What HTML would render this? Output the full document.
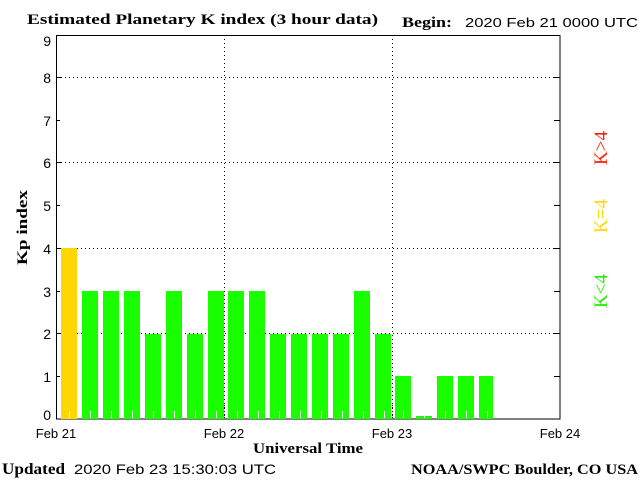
<!DOCTYPE html>
<html><head><style>body{margin:0;background:#fff}svg{display:block}</style></head><body>
<svg width="640" height="480" xmlns="http://www.w3.org/2000/svg">
<rect width="640" height="480" fill="#fff"/>
<text x="27" y="24" font-family="Liberation Serif,serif" font-weight="bold" font-size="15" textLength="351" lengthAdjust="spacingAndGlyphs">Estimated Planetary K index (3 hour data)</text>
<text x="402" y="27" font-family="Liberation Serif,serif" font-weight="bold" font-size="15" textLength="50" lengthAdjust="spacingAndGlyphs">Begin:</text>
<text x="465" y="27" font-family="Liberation Sans,sans-serif" font-size="13" textLength="173" lengthAdjust="spacingAndGlyphs">2020 Feb 21 0000 UTC</text>
<g stroke="#000" stroke-width="1" stroke-dasharray="1,3">
<line x1="57" y1="77.5" x2="560" y2="77.5"/><line x1="57" y1="162.5" x2="560" y2="162.5"/><line x1="57" y1="248.5" x2="560" y2="248.5"/><line x1="57" y1="333.5" x2="560" y2="333.5"/>
<line x1="224.5" y1="35" x2="224.5" y2="419"/><line x1="392.5" y1="35" x2="392.5" y2="419"/>
</g>
<rect x="56.5" y="35.5" width="503.5" height="383.5" fill="none" stroke="#000"/>
<g stroke="#000">
<line x1="56" y1="77.5" x2="62" y2="77.5"/><line x1="56" y1="162.5" x2="62" y2="162.5"/><line x1="56" y1="248.5" x2="62" y2="248.5"/><line x1="56" y1="333.5" x2="62" y2="333.5"/>
<line x1="554" y1="77.5" x2="560" y2="77.5"/><line x1="554" y1="162.5" x2="560" y2="162.5"/><line x1="554" y1="248.5" x2="560" y2="248.5"/><line x1="554" y1="333.5" x2="560" y2="333.5"/>
<line x1="554" y1="120.5" x2="560" y2="120.5"/><line x1="554" y1="205.5" x2="560" y2="205.5"/><line x1="554" y1="291.5" x2="560" y2="291.5"/><line x1="554" y1="376.5" x2="560" y2="376.5"/>
<line x1="56" y1="120.5" x2="60" y2="120.5"/><line x1="56" y1="205.5" x2="60" y2="205.5"/><line x1="56" y1="291.5" x2="60" y2="291.5"/><line x1="56" y1="376.5" x2="60" y2="376.5"/>
</g>
<g font-family="Liberation Sans,sans-serif" font-size="14" text-anchor="end">
<text x="51" y="46">9</text><text x="51" y="83">8</text><text x="51" y="126">7</text><text x="51" y="168">6</text><text x="51" y="211">5</text><text x="51" y="254">4</text><text x="51" y="297">3</text><text x="51" y="339">2</text><text x="51" y="382">1</text><text x="51" y="420">0</text>
</g>
<g font-family="Liberation Sans,sans-serif" font-size="13" text-anchor="middle">
<text x="56" y="438">Feb 21</text><text x="224" y="438">Feb 22</text><text x="392" y="438">Feb 23</text><text x="560" y="438">Feb 24</text>
</g>
<text x="253" y="453" font-family="Liberation Serif,serif" font-weight="bold" font-size="15" textLength="110" lengthAdjust="spacingAndGlyphs">Universal Time</text>
<text transform="translate(27,265) rotate(-90)" font-family="Liberation Serif,serif" font-weight="bold" font-size="15" textLength="75" lengthAdjust="spacingAndGlyphs">Kp index</text>
<text x="2" y="474" font-family="Liberation Serif,serif" font-weight="bold" font-size="16" textLength="63" lengthAdjust="spacingAndGlyphs">Updated</text>
<text x="74" y="474" font-family="Liberation Sans,sans-serif" font-size="14" textLength="202" lengthAdjust="spacingAndGlyphs">2020 Feb 23 15:30:03 UTC</text>
<text x="411" y="474" font-family="Liberation Serif,serif" font-weight="bold" font-size="15" textLength="227" lengthAdjust="spacingAndGlyphs">NOAA/SWPC Boulder, CO USA</text>
<g font-family="Liberation Serif,serif" font-size="19" text-anchor="middle">
<text transform="translate(607,148) rotate(-90)" fill="#ff2000">K&gt;4</text>
<text transform="translate(607,216) rotate(-90)" fill="#ffd700">K=4</text>
<text transform="translate(607,291) rotate(-90)" fill="#22ee00">K&lt;4</text>
</g>
<g>
<rect x="61" y="248" width="16" height="171" fill="#ffd700"/>
<rect x="82" y="291" width="16" height="128" fill="#1aff00"/>
<rect x="103" y="291" width="16" height="128" fill="#1aff00"/>
<rect x="124" y="291" width="16" height="128" fill="#1aff00"/>
<rect x="145" y="334" width="16" height="85" fill="#1aff00"/>
<rect x="166" y="291" width="16" height="128" fill="#1aff00"/>
<rect x="187" y="334" width="16" height="85" fill="#1aff00"/>
<rect x="208" y="291" width="16" height="128" fill="#1aff00"/>
<rect x="228" y="291" width="16" height="128" fill="#1aff00"/>
<rect x="249" y="291" width="16" height="128" fill="#1aff00"/>
<rect x="270" y="334" width="16" height="85" fill="#1aff00"/>
<rect x="291" y="334" width="16" height="85" fill="#1aff00"/>
<rect x="312" y="334" width="16" height="85" fill="#1aff00"/>
<rect x="333" y="334" width="16" height="85" fill="#1aff00"/>
<rect x="354" y="291" width="16" height="128" fill="#1aff00"/>
<rect x="375" y="334" width="16" height="85" fill="#1aff00"/>
<rect x="395" y="376" width="16" height="43" fill="#1aff00"/>
<rect x="416" y="416" width="16" height="3" fill="#1aff00"/>
<rect x="437" y="376" width="16" height="43" fill="#1aff00"/>
<rect x="458" y="376" width="16" height="43" fill="#1aff00"/>
<rect x="479" y="376" width="14" height="43" fill="#1aff00"/>
</g>
<g stroke="#fff" stroke-width="1">
<line x1="69.5" y1="411" x2="69.5" y2="418"/><line x1="90.5" y1="411" x2="90.5" y2="418"/><line x1="111.5" y1="411" x2="111.5" y2="418"/><line x1="132.5" y1="411" x2="132.5" y2="418"/><line x1="153.5" y1="411" x2="153.5" y2="418"/><line x1="174.5" y1="411" x2="174.5" y2="418"/><line x1="195.5" y1="411" x2="195.5" y2="418"/><line x1="216.5" y1="411" x2="216.5" y2="418"/><line x1="237.5" y1="411" x2="237.5" y2="418"/><line x1="258.5" y1="411" x2="258.5" y2="418"/><line x1="279.5" y1="411" x2="279.5" y2="418"/><line x1="300.5" y1="411" x2="300.5" y2="418"/><line x1="321.5" y1="411" x2="321.5" y2="418"/><line x1="342.5" y1="411" x2="342.5" y2="418"/><line x1="363.5" y1="411" x2="363.5" y2="418"/><line x1="384.5" y1="411" x2="384.5" y2="418"/><line x1="403.5" y1="411" x2="403.5" y2="418"/><line x1="424.5" y1="416" x2="424.5" y2="418"/><line x1="445.5" y1="411" x2="445.5" y2="418"/><line x1="466.5" y1="411" x2="466.5" y2="418"/><line x1="487.5" y1="411" x2="487.5" y2="418"/>
</g>
<line x1="224.5" y1="405" x2="224.5" y2="419" stroke="#000" stroke-dasharray="1,2"/>
<line x1="392.5" y1="405" x2="392.5" y2="419" stroke="#000" stroke-dasharray="1,2"/>
</svg>
</body></html>
